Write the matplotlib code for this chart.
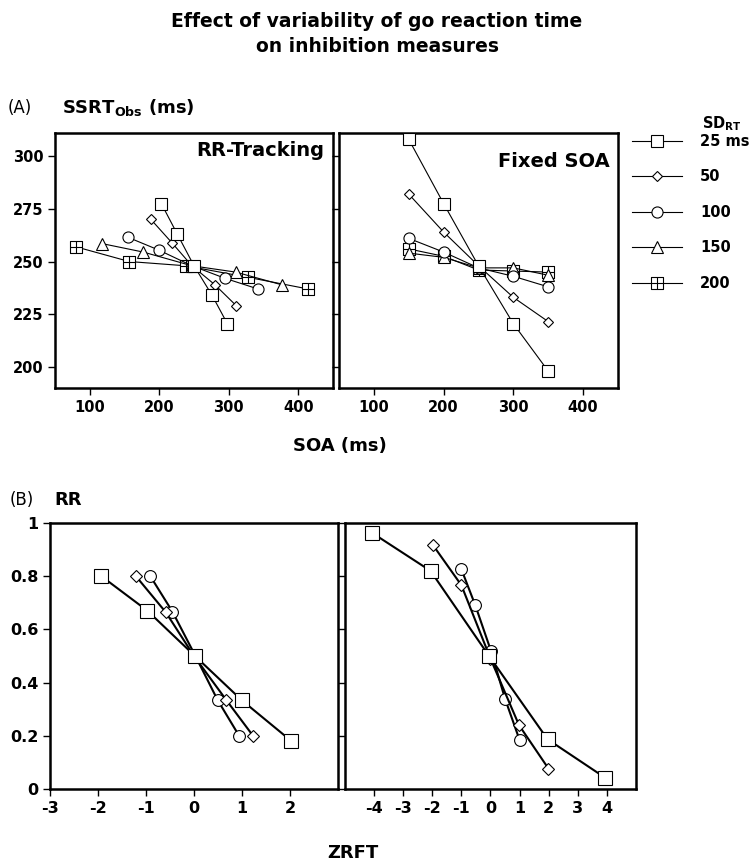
import matplotlib
matplotlib.use('Agg')
import matplotlib.pyplot as plt
from matplotlib.path import Path

# Panel A data: SOA (ms) vs observed SSRT (ms)
sd_labels = ['25 ms', '50', '100', '150', '200']

track_soa = {
    '25': [203, 226, 250, 276, 298],
    '50': [188, 218, 247, 280, 311],
    '100': [155, 199, 247, 295, 342],
    '150': [118, 177, 247, 310, 376],
    '200': [80, 157, 238, 328, 414],
}
track_ssrt = {
    '25': [277.5, 263, 248, 234, 220.5],
    '50': [270, 259, 248, 239, 229],
    '100': [261.5, 255.5, 248, 242, 237],
    '150': [258.5, 254.5, 248, 245, 239],
    '200': [257, 250, 248, 242.5, 237],
}

fixed_soa = [150, 200, 250, 300, 350]
fixed_ssrt = {
    '25': [308, 277.5, 248, 220.5, 198],
    '50': [282, 264, 248, 233, 221.5],
    '100': [261, 254.5, 247, 243, 238],
    '150': [254, 252, 247, 247, 243.5],
    '200': [256, 252.5, 246, 245.5, 245],
}

# Panel B data: ZRFT vs RR (only SD 25, 50, 100)
track_z = {
    '25': [-1.93, -0.97, 0.02, 1.0, 2.03],
    '50': [-1.21, -0.59, 0.0, 0.67, 1.23],
    '100': [-0.91, -0.45, 0.03, 0.49, 0.94],
}
track_rr = {
    '25': [0.80, 0.67, 0.50, 0.333, 0.18],
    '50': [0.80, 0.665, 0.50, 0.335, 0.20],
    '100': [0.80, 0.667, 0.50, 0.335, 0.20],
}
fixed_z = {
    '25': [-4.07, -2.06, -0.05, 1.96, 3.93],
    '50': [-1.99, -1.0, 0.0, 0.98, 1.99],
    '100': [-1.0, -0.52, 0.02, 0.50, 1.0],
}
fixed_rr = {
    '25': [0.963, 0.82, 0.50, 0.187, 0.043],
    '50': [0.919, 0.766, 0.49, 0.24, 0.077],
    '100': [0.826, 0.69, 0.518, 0.339, 0.184],
}

# square with a cross inside
sq_plus = Path(
    [(-1, -1), (1, -1), (1, 1), (-1, 1), (-1, -1), (0, -1), (0, 1), (-1, 0), (1, 0)],
    [Path.MOVETO, Path.LINETO, Path.LINETO, Path.LINETO, Path.CLOSEPOLY,
     Path.MOVETO, Path.LINETO, Path.MOVETO, Path.LINETO])

styles = {
    '25': dict(marker='s', ms=9),
    '50': dict(marker='D', ms=5.5),
    '100': dict(marker='o', ms=8),
    '150': dict(marker='^', ms=8),
    '200': dict(marker=sq_plus, ms=8),
}
order = ['200', '150', '100', '50', '25']

plt.rcParams['font.family'] = 'DejaVu Sans'
plt.rcParams['mathtext.default'] = 'bf'
plt.rcParams['axes.unicode_minus'] = False

fig = plt.figure(figsize=(7.53, 8.67), dpi=100)
W, H = 753, 867


def add_ax(x0, y0, x1, y1):
    return fig.add_axes([x0 / W, 1 - y1 / H, (x1 - x0) / W, (y1 - y0) / H])


def style_ax(ax, size):
    for s in ax.spines.values():
        s.set_linewidth(1.8)
    ax.tick_params(direction='out', length=5, width=1, labelsize=size)
    for lab in ax.get_xticklabels() + ax.get_yticklabels():
        lab.set_fontweight('bold')


axA1 = add_ax(55, 133, 333, 388)
axA2 = add_ax(339, 133, 618, 388)
axB1 = add_ax(50, 523, 338, 789)
axB2 = add_ax(345, 523, 636, 789)

handles = []
for k in order:
    st = styles[k]
    axA1.plot(track_soa[k], track_ssrt[k], color='black', lw=0.8, marker=st['marker'],
              ms=st['ms'], mfc='white', mec='black', mew=0.8, zorder=3)
    h, = axA2.plot(fixed_soa, fixed_ssrt[k], color='black', lw=0.8, marker=st['marker'],
                   ms=st['ms'], mfc='white', mec='black', mew=0.8, zorder=3)
    handles.append(h)

for ax in (axA1, axA2):
    ax.set_xlim(50, 450)
    ax.set_ylim(190, 311)
    ax.set_xticks([100, 200, 300, 400])
    ax.set_yticks([200, 225, 250, 275, 300])
axA2.set_yticklabels([])
style_ax(axA1, 10.5)
style_ax(axA2, 10.5)

axA1.text(0.97, 0.93, 'RR-Tracking', transform=axA1.transAxes, ha='right', va='center',
          fontsize=14, fontweight='bold')
axA2.text(0.97, 0.89, 'Fixed SOA', transform=axA2.transAxes, ha='right', va='center',
          fontsize=14, fontweight='bold')

for k in ['100', '50', '25']:
    st = styles[k]
    axB1.plot(track_z[k], track_rr[k], color='black', lw=1.5, marker=st['marker'],
              ms=st['ms'] + 0.5, mfc='white', mec='black', mew=0.8, zorder=3)
    axB2.plot(fixed_z[k], fixed_rr[k], color='black', lw=1.5, marker=st['marker'],
              ms=st['ms'] + 0.5, mfc='white', mec='black', mew=0.8, zorder=3)

axB1.set_xlim(-3, 3)
axB1.set_xticks([-3, -2, -1, 0, 1, 2])
axB2.set_xlim(-5, 5)
axB2.set_xticks([-4, -3, -2, -1, 0, 1, 2, 3, 4])
for ax in (axB1, axB2):
    ax.set_ylim(0, 1)
    ax.set_yticks([0, 0.2, 0.4, 0.6, 0.8, 1])
axB1.set_yticklabels(['0', '0.2', '0.4', '0.6', '0.8', '1'])
axB2.set_yticklabels([])
style_ax(axB1, 11.5)
style_ax(axB2, 11.5)

# legend (title drawn separately above it)
fig.legend(handles[::-1], sd_labels, loc='upper left', bbox_to_anchor=(632 / W, 1 - 134 / H),
           frameon=False, prop={'weight': 'bold', 'size': 10.5},
           borderpad=0, borderaxespad=0,
           handlelength=3.4, handletextpad=1.25, labelspacing=1.4)
fig.text(702 / W, 1 - 124 / H, 'SD$_{RT}$', ha='left', va='center', fontsize=10.5, fontweight='bold')

# titles and labels
fig.text(377 / W, 1 - 34 / H, 'Effect of variability of go reaction time\non inhibition measures',
         ha='center', va='center', fontsize=13.5, fontweight='bold', linespacing=1.35)
fig.text(8 / W, 1 - 108 / H, '(A)', ha='left', va='center', fontsize=12)
fig.text(62 / W, 1 - 108 / H, 'SSRT$_{Obs}$ (ms)', ha='left', va='center', fontsize=13, fontweight='bold')
fig.text(340 / W, 1 - 446 / H, 'SOA (ms)', ha='center', va='center', fontsize=13, fontweight='bold')
fig.text(10 / W, 1 - 500 / H, '(B)', ha='left', va='center', fontsize=12)
fig.text(54 / W, 1 - 500 / H, 'RR', ha='left', va='center', fontsize=13, fontweight='bold')
fig.text(353 / W, 1 - 853 / H, 'ZRFT', ha='center', va='center', fontsize=13, fontweight='bold')

fig.savefig('out.png', dpi=100)
